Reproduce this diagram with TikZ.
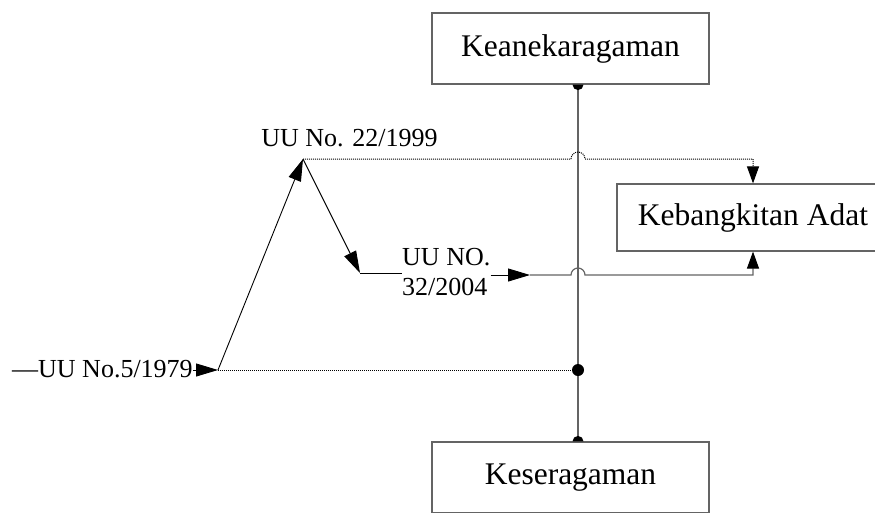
\documentclass[tikz,border=0pt]{standalone}
\usepackage{fontspec}
\setmainfont{Liberation Serif}
\usetikzlibrary{arrows.meta,calc}
\definecolor{linegray}{RGB}{100,100,100}

\begin{document}
\begin{tikzpicture}[x=1pt, y=-1pt,
	box/.style={draw=linegray, line width=1.2pt, fill=white, inner sep=0pt, minimum height=71pt, font=\fontsize{31.5}{36}\selectfont},
	law/.style={inner sep=0pt, font=\fontsize{26}{30}\selectfont, align=left},
	tip/.style={line width=0.9pt, -{Triangle[length=22pt, width=13pt]}},
	shorttip/.style={-{Triangle[length=17pt, width=12pt, color=black]}},
	dots/.style={dash pattern=on 1pt off 1pt, line width=1pt}]
	\useasboundingbox (0,0) rectangle (875,512);

	% boxes and labels
	\node[box, minimum width=277pt] (keane) at (570.5,48.5) {Keanekaragaman};
	\node[box, minimum width=277pt] (kesera) at (570.5,477.5) {Keseragaman};
	\node[box, minimum width=272pt, minimum height=67pt] (kebang) at (753,217.5) {Kebangkitan Adat};
	\node[law, anchor=base] (u22) at (349.5,146) {UU No. 22/1999};
	\node[law, anchor=west] (u32) at (402,272) {UU NO.\\32/2004};
	\node[law, anchor=base west] (u5) at (12,377) {—UU No.5/1979};

	\coordinate (spine) at (578,0);
	\coordinate (j5) at (218,370);
	\coordinate (apex) at (303,159);
	\coordinate (c32) at (360,273);
	\coordinate (a32) at (530,275);

	% spine with dots
	\draw[linegray, line width=1.2pt] (keane.south -| spine) -- (kesera.north -| spine);
	\fill ($(keane.south -| spine)+(5.5,0)$) arc (0:180:5.5) -- cycle;
	\fill ($(kesera.north -| spine)+(-5.5,0)$) arc (180:360:5.5) -- cycle;
	\fill (spine |- j5) circle (6);
	\draw[dots] (j5) -- (spine |- j5);

	% laws
	\draw[tip] (u5.east |- j5) -- (j5);
	\draw[tip] (j5) -- (apex);
	\draw[tip] (apex) -- (c32);
	\draw[line width=0.9pt] (c32) -- (c32 -| u32.west);
	\draw[tip] (u32.east |- a32) -- (a32);
	\draw[dots, shorttip] (apex) -- ($(spine |- apex)+(-7,0)$) arc (180:360:7)
		-- (kebang.north |- apex) -- (kebang.north);
	\draw[linegray, line width=1.2pt, shorttip] (a32) -- ($(spine |- a32)+(-7,0)$) arc (180:360:7)
		-- (kebang.south |- a32) -- (kebang.south);
\end{tikzpicture}
\end{document}
